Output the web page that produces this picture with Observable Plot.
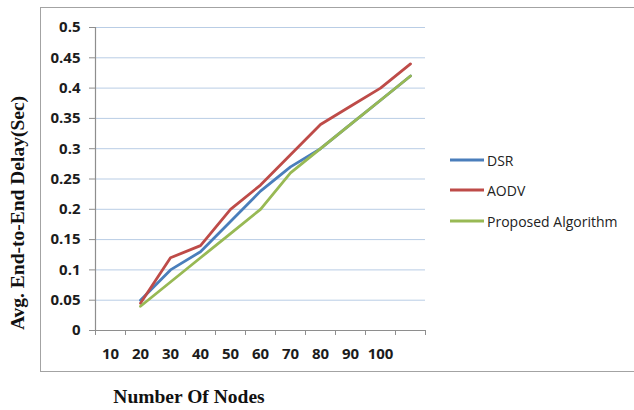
<!DOCTYPE html>
<html><head><meta charset="utf-8">
<script src="https://cdn.jsdelivr.net/npm/d3@7"></script>
<script src="https://cdn.jsdelivr.net/npm/@observablehq/plot@0.6"></script>
<style>
body{margin:0;background:#fff;}
#wrap{position:relative;width:634px;height:410px;overflow:hidden;background:#fff;}
#wrap svg{position:absolute;left:0;top:0;}
.border{position:absolute;left:40px;top:7px;width:600px;height:365px;border:1.5px solid #a3a3a3;box-sizing:border-box;}
.ytitle{position:absolute;left:17.5px;top:213px;transform:translate(-50%,-50%) rotate(-90deg);white-space:nowrap;font:bold 19.5px "Liberation Serif","Times New Roman",serif;line-height:1;color:#111;}
.xtitle{position:absolute;left:189px;top:397px;transform:translate(-50%,-50%);white-space:nowrap;font:bold 19.5px "Liberation Serif","Times New Roman",serif;line-height:1;color:#111;}
.legend{position:absolute;left:450px;top:0;font:14px "Open Sans",sans-serif;color:#222;}
.legend .item{position:absolute;left:0;display:flex;align-items:center;white-space:nowrap;transform:translateY(-50%);}
.legend .sw{width:34px;height:3px;margin-right:3px;}
</style></head><body><div id="wrap"></div>
<script>
const nodeLabels = [10, 20, 30, 40, 50, 60, 70, 80, 90, 100];
const nodes = [20, 30, 40, 50, 60, 70, 80, 90, 100, 110];
const dsr = [0.05, 0.10, 0.13, 0.18, 0.23, 0.27, 0.30, 0.34, 0.38, 0.42];
const aodv = [0.045, 0.12, 0.14, 0.20, 0.24, 0.29, 0.34, 0.37, 0.40, 0.44];
const proposed = [0.04, 0.08, 0.12, 0.16, 0.20, 0.26, 0.30, 0.34, 0.38, 0.42];
const yTicks = [0, 0.05, 0.1, 0.15, 0.2, 0.25, 0.3, 0.35, 0.4, 0.45, 0.5];
const yTickLabels = ["0", "0.05", "0.1", "0.15", "0.2", "0.25", "0.3", "0.35", "0.4", "0.45", "0.5"];
const seriesNames = ["DSR", "AODV", "Proposed Algorithm"];
const seriesColors = ["#4a7ebb", "#be4b48", "#98b954"];
const yTitle = "Avg. End-to-End Delay(Sec)";
const xTitle = "Number Of Nodes";

const seriesValues = [dsr, aodv, proposed];
const rows = seriesNames.flatMap((s, i) => nodes.map((n, j) => ({series: s, nodes: n, value: seriesValues[i][j]})));
// category band edges (Excel category axis tick marks)
const step = nodeLabels[1] - nodeLabels[0];
const xEdges = [...nodeLabels, nodes[nodes.length - 1]].map(d => d - step / 2).concat([nodes[nodes.length - 1] + step / 2]);
const xDomain = [xEdges[0], xEdges[xEdges.length - 1]];

const axisColor = "#8e8e8e";
const tickFont = {fontSize: 15, fontWeight: "bold", fontFamily: "'Open Sans', sans-serif", fill: "#1c1c1c"};

const chart = Plot.plot({
  width: 634, height: 410,
  marginLeft: 95, marginRight: 209, marginTop: 27, marginBottom: 80,
  style: {background: "transparent", overflow: "visible"},
  x: {domain: xDomain},
  y: {domain: [0, 0.5]},
  color: {domain: seriesNames, range: seriesColors},
  marks: [
    Plot.gridY(yTicks.slice(1), {stroke: "#b9cde5", strokeOpacity: 1, strokeWidth: 1}),
    Plot.ruleY([0], {stroke: axisColor, strokeWidth: 1.2}),
    Plot.ruleX([xDomain[0]], {stroke: axisColor, strokeWidth: 1.2}),
    Plot.axisY({ticks: yTicks, tickSize: 6, tickPadding: 9, tickFormat: (d, i) => yTickLabels[i], label: null, stroke: axisColor, ...tickFont}),
    Plot.axisX({ticks: xEdges, tickSize: 5, tickFormat: () => "", label: null, stroke: axisColor}),
    Plot.axisX({ticks: nodeLabels, tickSize: 0, tickPadding: 18, tickFormat: d => String(d), label: null, ...tickFont}),
    Plot.line(rows, {x: "nodes", y: "value", z: "series", stroke: "series", strokeWidth: 2.8, strokeLinejoin: "round", strokeLinecap: "round"})
  ]
});

const wrap = document.getElementById("wrap");
const border = document.createElement("div");
border.className = "border";
wrap.appendChild(border);
wrap.appendChild(chart);

const yt = document.createElement("div"); yt.className = "ytitle"; yt.textContent = yTitle; wrap.appendChild(yt);
const xt = document.createElement("div"); xt.className = "xtitle"; xt.textContent = xTitle; wrap.appendChild(xt);

const legend = document.createElement("div");
legend.className = "legend";
const legendTops = [160, 190, 221];
seriesNames.forEach((s, i) => {
  const item = document.createElement("div");
  item.className = "item";
  item.style.top = legendTops[i] + "px";
  const sw = document.createElement("span"); sw.className = "sw"; sw.style.background = seriesColors[i];
  const tx = document.createElement("span"); tx.textContent = s;
  item.appendChild(sw); item.appendChild(tx);
  legend.appendChild(item);
});
wrap.appendChild(legend);
</script></body></html>
